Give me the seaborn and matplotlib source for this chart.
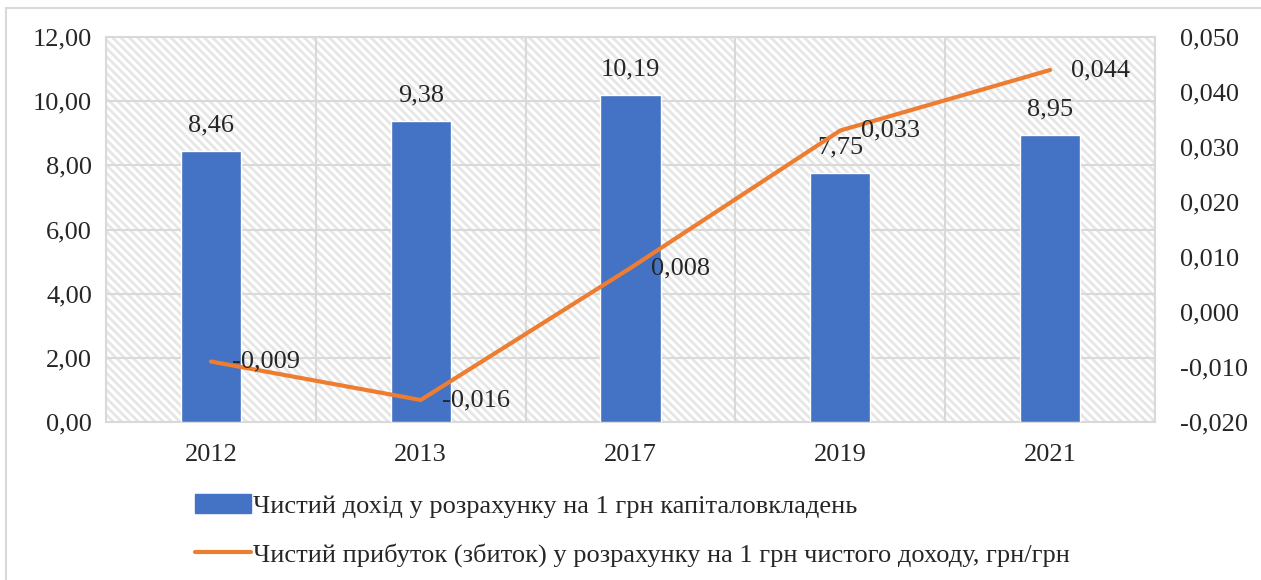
import matplotlib
matplotlib.use("Agg")
import matplotlib.pyplot as plt
from matplotlib.patches import Rectangle
from matplotlib.lines import Line2D
from matplotlib.ticker import FuncFormatter, FixedLocator, MultipleLocator
import seaborn as sns
import numpy as np
import pandas as pd

years = ["2012", "2013", "2017", "2019", "2021"]
income_per_capex = [8.46, 9.38, 10.19, 7.75, 8.95]
profit_per_income = [-0.009, -0.016, 0.008, 0.033, 0.044]
bar_label = "Чистий дохід у розрахунку на 1 грн капіталовкладень"
line_label = "Чистий прибуток (збиток) у розрахунку на 1 грн чистого доходу, грн/грн"

sns.set_theme(style="white")
plt.rcParams['font.family'] = ['Liberation Serif', 'DejaVu Serif']
plt.rcParams['hatch.linewidth'] = 2.0

BLUE = "#4472C4"
ORANGE = "#ED7D31"
GRID = "#D9D9D9"
FS = 19

fig = plt.figure(figsize=(12.61, 5.80), dpi=100)
ax = fig.add_axes([106/1261, 1-422/580, (1155-106)/1261, (422-37)/580])

# outer frame
fig.patches.append(Rectangle((6/1261, -0.01), 1.0, 1-8/580+0.01, transform=fig.transFigure,
                             fill=False, edgecolor="#D9D9D9", lw=1.5, zorder=0))

# hatched plot area
ax.add_patch(Rectangle((0, 0), 1, 1, transform=ax.transAxes, fill=False,
                       hatch="\\\\\\\\", edgecolor="#E6E6E6", lw=0, zorder=0))

df = pd.DataFrame({"year": years, "value": income_per_capex})
sns.barplot(data=df, x="year", y="value", color=BLUE, saturation=1, width=0.286,
            ax=ax, zorder=3, label=bar_label)

ax.set_ylim(0, 12)
ax.set_xlim(-0.5, len(years) - 0.5)
ax.yaxis.set_major_locator(MultipleLocator(2))
ax.yaxis.set_major_formatter(FuncFormatter(lambda v, p: f"{v:.2f}".replace(".", ",")))
ax.set_xlabel("")
ax.set_ylabel("")
ax.grid(axis="y", color=GRID, lw=1.5, zorder=1)
ax.xaxis.set_minor_locator(FixedLocator(np.arange(len(years) + 1) - 0.5))
ax.grid(axis="x", which="minor", color=GRID, lw=1.5, zorder=1)
ax.tick_params(axis="x", which="minor", length=8, color=GRID, width=1.5, direction="out")
ax.tick_params(axis="x", which="major", length=0, pad=16, labelsize=FS)
ax.tick_params(axis="y", length=0, pad=10, labelsize=FS)
for s in ax.spines.values():
    s.set_color(GRID)
    s.set_linewidth(1.5)
ax.set_axisbelow(True)

for i, v in enumerate(income_per_capex):
    ax.text(i, v + 0.45, f"{v:.2f}".replace(".", ","), ha="center", va="bottom",
            fontsize=FS, zorder=5)

ax2 = ax.twinx()
sns.lineplot(x=np.arange(len(years)), y=profit_per_income, color=ORANGE, lw=3,
             ax=ax2, label=line_label, zorder=4)
ax2.set_ylim(-0.02, 0.05)
ax2.yaxis.set_major_locator(MultipleLocator(0.01))
ax2.yaxis.set_major_formatter(FuncFormatter(lambda v, p: f"{v:.3f}".replace(".", ",").replace("-0,000", "0,000")))
ax2.tick_params(axis="y", length=0, pad=18, labelsize=FS)
for s in ax2.spines.values():
    s.set_visible(False)
ax2.set_xlim(-0.5, len(years) - 0.5)

for i, v in enumerate(profit_per_income):
    ax2.annotate(f"{v:.3f}".replace(".", ","), (i, v), xytext=(15, 0),
                 textcoords="offset points", ha="left", va="center", fontsize=FS, zorder=6)

if ax.get_legend():
    ax.get_legend().remove()
if ax2.get_legend():
    ax2.get_legend().remove()

handles = [Rectangle((0, 0), 1, 1, color=BLUE), Line2D([], [], color=ORANGE, lw=3)]
fig.legend(handles, [bar_label, line_label], loc="upper left",
           bbox_to_anchor=(182/1261, 1-481/580), frameon=False, fontsize=FS,
           handlelength=2.1, handletextpad=0.1, labelspacing=0.95, borderpad=0)

fig.savefig("out.png", dpi=100)
